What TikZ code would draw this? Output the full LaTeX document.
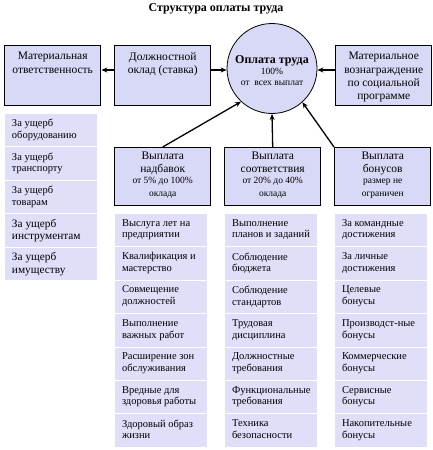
\documentclass[tikz,border=0pt]{standalone}
\usepackage{fontspec}
\setmainfont{Liberation Serif}
\usetikzlibrary{arrows.meta}
\definecolor{boxfill}{RGB}{216,216,247}
\definecolor{itemfill}{RGB}{223,223,250}
\newcommand{\boxtxt}[1]{\parbox[c][52pt][t]{88pt}{\vspace*{2.5pt}\centering #1}}
\newcommand{\itemtxt}[1]{\parbox[c][27pt][t]{78pt}{\vspace*{2.5pt}\raggedright #1}}
\newcommand{\sm}{\fontsize{9.5}{11}\selectfont}
\begin{document}
\begin{tikzpicture}[x=1pt,y=-1pt,
  mainbox/.style={draw=black, line width=1.4pt, fill=boxfill, inner sep=4pt,
    anchor=north west, font=\fontsize{11.5}{13.3}\selectfont},
  itembox/.style={draw=white, line width=1pt, fill=itemfill, inner sep=0pt,
    minimum width=93pt, minimum height=33.4pt, anchor=north west,
    font=\fontsize{10.5}{11.8}\selectfont},
  bigitem/.style={itembox, font=\fontsize{11.3}{12.5}\selectfont},
  conn/.style={line width=1.3pt, -{Stealth[length=6pt,width=5pt]}}]
\useasboundingbox (0,0) rectangle (432,450);
\fill[white] (0,0) rectangle (432,450);

\node[font=\fontsize{12}{14}\selectfont\bfseries] (title) at (216,9) {Структура оплаты труда};

% top row
\node[mainbox] (b1) at (4,45) {\boxtxt{Материальная\\ответственность}};
\node[mainbox] (b2) at (114,45) {\boxtxt{Должностной\\оклад (ставка)}};
\node[mainbox] (b4) at (335,45) {\boxtxt{Материальное\\вознаграждение\\по социальной\\программе}};
\node[draw=black, line width=0.8pt, fill=boxfill, circle, minimum size=90pt, inner sep=0pt,
  align=center] (circ) at (272,68.5) {};
\node[align=center, inner sep=0pt] (circtxt) at (272,71) {{\fontsize{12}{14}\selectfont\bfseries Оплата труда}\\[-1pt]{\sm 100\%}\\[-1pt]{\sm от\ \ всех выплат}};

% middle row
\node[mainbox] (nad) at (114,147) {\parbox[c][50pt][t]{88pt}{\centering Выплата\\надбавок\\{\sm от 5\% до 100\%\\оклада}}};
\node[mainbox] (soo) at (224,147) {\parbox[c][50pt][t]{88pt}{\centering Выплата\\соответствия\\{\sm от 20\% до 40\%\\оклада}}};
\node[mainbox] (bon) at (334,147) {\parbox[c][50pt][t]{88pt}{\centering Выплата\\бонусов\\{\sm размер не\\ограничен}}};

% connectors
\draw[conn] (b2.west |- 0,70) -- (b1.east |- 0,70);
\draw[conn] (b2.east |- 0,70) -- (circ.west |- 0,70);
\draw[conn] (b4.west |- 0,70) -- (circ.east |- 0,70);
\draw[conn] (nad.north) -- (circ.-133);
\draw[conn] (soo.north) -- (circ.south);
\draw[conn] (bon.north west) -- (circ.-48);

% left list
\node[itembox] (l1) at (4,113) {\itemtxt{За ущерб\\оборудованию}};
\node[itembox] (l2) at (4,146.4) {\itemtxt{За ущерб\\транспорту}};
\node[itembox] (l3) at (4,179.8) {\itemtxt{За ущерб\\товарам}};
\node[bigitem] (l4) at (4,213.2) {\itemtxt{За ущерб\\инструментам}};
\node[bigitem] (l5) at (4,246.6) {\itemtxt{За ущерб\\имуществу}};

% column lists
\foreach \i/\t in {0/{Выслуга лет на\\предприятии},1/{Квалификация и\\мастерство},2/{Совмещение\\должностей},3/{Выполнение\\важных работ},4/{Расширение зон\\обслуживания},5/{Вредные для\\здоровья работы},6/{Здоровый образ\\жизни}}
  \node[itembox] (a\i) at (114,213+33.4*\i) {\itemtxt{\t}};
\foreach \i/\t in {0/{Выполнение\\планов и заданий},1/{Соблюдение\\бюджета},2/{Соблюдение\\стандартов},3/{Трудовая\\дисциплина},4/{Должностные\\требования},5/{Функциональные\\требования},6/{Техника\\безопасности}}
  \node[itembox] (c\i) at (224,213+33.4*\i) {\itemtxt{\t}};
\foreach \i/\t in {0/{За командные\\достижения},1/{За личные\\достижения},2/{Целевые\\бонусы},3/{Производст-ные\\бонусы},4/{Коммерческие\\бонусы},5/{Сервисные\\бонусы},6/{Накопительные\\бонусы}}
  \node[itembox] (d\i) at (334,213+33.4*\i) {\itemtxt{\t}};
\end{tikzpicture}
\end{document}
